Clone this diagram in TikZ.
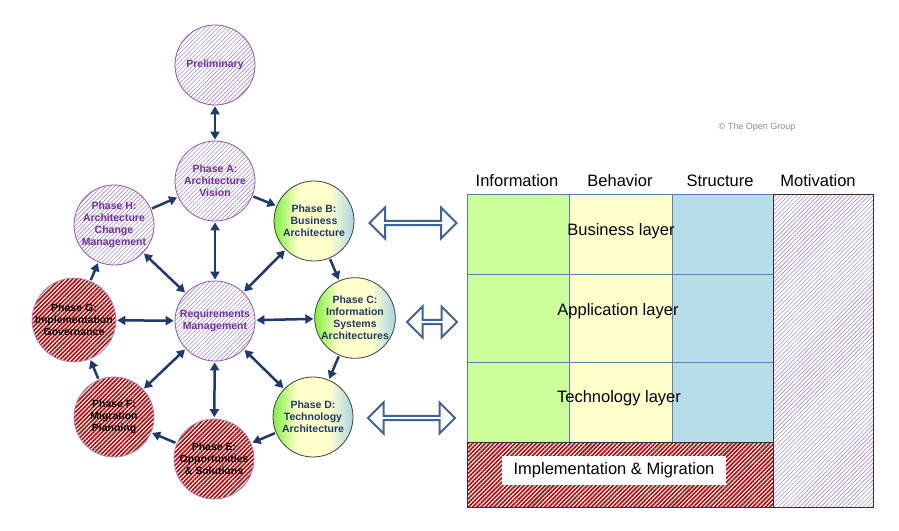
\documentclass[tikz,border=0pt]{standalone}
\usepackage{fontspec}
\setmainfont{Liberation Sans}
\usetikzlibrary{arrows.meta,patterns.meta,shapes.arrows}
\definecolor{phasepurple}{HTML}{7030A0}
\definecolor{hatchpurple}{HTML}{A58FCF}
\definecolor{hatchred}{HTML}{C00000}
\definecolor{flownavy}{HTML}{1F3A6E}
\definecolor{textnavy}{HTML}{1F3864}
\definecolor{gradgreen}{HTML}{7FF03C}
\definecolor{gradyellow}{HTML}{FFFFCC}
\definecolor{gradblue}{HTML}{A9D6E5}
\definecolor{infogreen}{HTML}{CCFF99}
\definecolor{behavyellow}{HTML}{FFFFCC}
\definecolor{structblue}{HTML}{B7DDE8}
\definecolor{gridblue}{HTML}{5B7FB5}
\definecolor{linkblue}{HTML}{3D6496}
\pgfdeclarehorizontalshading{phasegrad}{100bp}{%
  color(0bp)=(gradgreen); color(25bp)=(gradgreen); color(40bp)=(gradyellow);
  color(60bp)=(gradyellow); color(75bp)=(gradblue); color(100bp)=(gradblue)}
\tikzset{
  phase/.style={
    circle,
    minimum size=80pt,
    inner sep=0pt,
    align=center,
    font=\fontsize{10.5}{12}\selectfont\bfseries
  },
  core/.style={phase, draw=phasepurple!80, line width=0.8pt, text=phasepurple,
    pattern={Lines[angle=45,distance=3pt,line width=0.6pt]}, pattern color=hatchpurple},
  design/.style={phase, draw=black!75, line width=0.8pt, text=textnavy,
    shading=phasegrad},
  delivery/.style={phase, draw=phasepurple!60, line width=0.8pt, text=black,
    pattern={Lines[angle=45,distance=3pt,line width=1.6pt]}, pattern color=hatchred},
  ring/.style={draw=flownavy, line width=2.5pt, -{Triangle[length=8pt,width=9pt]},
    shorten >=1pt, shorten <=1pt},
  spoke/.style={ring, {Triangle[length=8pt,width=9pt]}-{Triangle[length=8pt,width=9pt]}},
  bigarrow/.style={double arrow, draw=linkblue, line width=2pt, fill=white,
    inner sep=0pt, minimum width=31pt, double arrow head extend=6.5pt,
    double arrow tip angle=90},
  colhead/.style={font=\fontsize{16.5}{18}\selectfont},
  layer/.style={font=\fontsize{16.5}{18}\selectfont},
  gridline/.style={draw=gridblue, line width=0.8pt},
  credit/.style={font=\fontsize{9}{10}\selectfont, text=black!45}
}

\begin{document}
\begin{tikzpicture}[x=1pt,y=-1pt]
\path[use as bounding box] (0,0) rectangle (899,530);
\fill[white] (0,0) rectangle (899,530);

% ADM cycle
\node[core] (prelim) at (215,65) {Preliminary};
\node[core] (phaseA) at (215,181) {Phase A:\\Architecture\\Vision};
\node[design] (phaseB) at (314,221) {Phase B:\\Business\\Architecture};
\node[design] (phaseC) at (355,318) {Phase C:\\Information\\Systems\\Architectures};
\node[design] (phaseD) at (313,417) {Phase D:\\Technology\\Architecture};
\node[delivery] (phaseE) at (214,459) {Phase E:\\Opportunities\\\& Solutions};
\node[delivery] (phaseF) at (114,417) {Phase F:\\Migration\\Planning};
\node[delivery] (phaseG) at (74,320) {Phase G:\\Implementation\\Governance};
\node[core] (phaseH) at (114,225) {Phase H:\\Architecture\\Change\\Management};
\node[core] (reqs) at (215,321) {Requirements\\Management};

\draw[spoke] (prelim) -- (phaseA);
\draw[ring] (phaseA) -- (phaseB);
\draw[ring] (phaseB) -- (phaseC);
\draw[ring] (phaseC) -- (phaseD);
\draw[ring] (phaseD) -- (phaseE);
\draw[ring] (phaseE) -- (phaseF);
\draw[ring] (phaseF) -- (phaseG);
\draw[ring] (phaseG) -- (phaseH);
\draw[ring] (phaseH) -- (phaseA);
\foreach \p in {phaseA,phaseB,phaseC,phaseD,phaseE,phaseF,phaseG,phaseH}
  \draw[spoke] (reqs) -- (\p);

% links to the layers
\node[bigarrow, minimum height=87pt] (linkB) at (413,223) {};
\node[bigarrow, minimum height=50pt] (linkC) at (432,322) {};
\node[bigarrow, minimum height=87pt] (linkD) at (411.5,418) {};

% layer table
\fill[infogreen] (467,194) rectangle (569,442);
\fill[behavyellow] (569,194) rectangle (672,442);
\fill[structblue] (672,194) rectangle (773,442);
\draw[gridline] (467,194) rectangle (773,442);
\draw[gridline] (569,194) -- (569,442);
\draw[gridline] (672,194) -- (672,442);
\draw[gridline] (467,274) -- (773,274);
\draw[gridline] (467,362) -- (773,362);
\path[pattern={Lines[angle=45,distance=3pt,line width=1.6pt]}, pattern color=hatchred]
  (467,442) rectangle (773,507);
\draw[black!80, line width=0.8pt] (467,442) rectangle (773,507);
\path[pattern={Lines[angle=45,distance=3pt,line width=0.6pt]}, pattern color=hatchpurple]
  (773,194) rectangle (873,507);
\draw[black!80, line width=0.8pt] (773,194) rectangle (873,507);

\node[colhead] (info) at (517,181) {Information};
\node[colhead] (behav) at (620,181) {Behavior};
\node[colhead] (struct) at (720,181) {Structure};
\node[colhead] (motiv) at (818,181) {Motivation};

\node[layer] (business) at (621,231) {Business layer};
\node[layer] (application) at (618,311) {Application layer};
\node[layer] (technology) at (619,398) {Technology layer};
\node[layer, fill=white, minimum width=224pt, minimum height=29pt, inner sep=0pt]
  (implmig) at (614,470.5) {Implementation \& Migration};

\node[credit] (copy) at (757,127) {© The Open Group};
\end{tikzpicture}
\end{document}
